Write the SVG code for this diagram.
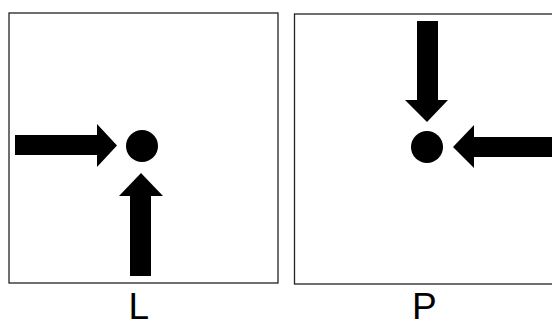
<svg xmlns="http://www.w3.org/2000/svg" width="552" height="327" viewBox="0 0 552 327">
<style>
.frame{fill:#fff;stroke:#222;stroke-width:1.3}
.arrow{fill:#000}
.dot{fill:#000}
.lbl{font-family:"Liberation Sans",Arial,sans-serif;font-size:37px;fill:#000;text-anchor:middle}
</style>
<rect width="552" height="327" fill="#fff"/>
<g id="panel-L">
<rect class="frame" x="9" y="13" width="269" height="270"/>
<circle class="dot" cx="142" cy="146" r="16"/>
<text class="lbl" x="138.8" y="319">L</text>
</g>
<g id="panel-P">
<rect class="frame" x="294.5" y="14" width="280" height="270"/>
<circle class="dot" cx="427" cy="147" r="16"/>
<text class="lbl" x="424.4" y="319">P</text>
</g>
<g id="connectors">
<polygon class="arrow" points="15,135 97,135 97,124 117,145.5 97,167 97,155 15,155"/>
<polygon class="arrow" points="130,276 130,196 119,196 141,173 163,196 151,196 151,276"/>
<polygon class="arrow" points="417,21 438,21 438,100 448,100 427,122 405,100 417,100"/>
<polygon class="arrow" points="552,137 474,137 474,125 453,147 474,168 474,157 552,157"/>
</g>
</svg>
